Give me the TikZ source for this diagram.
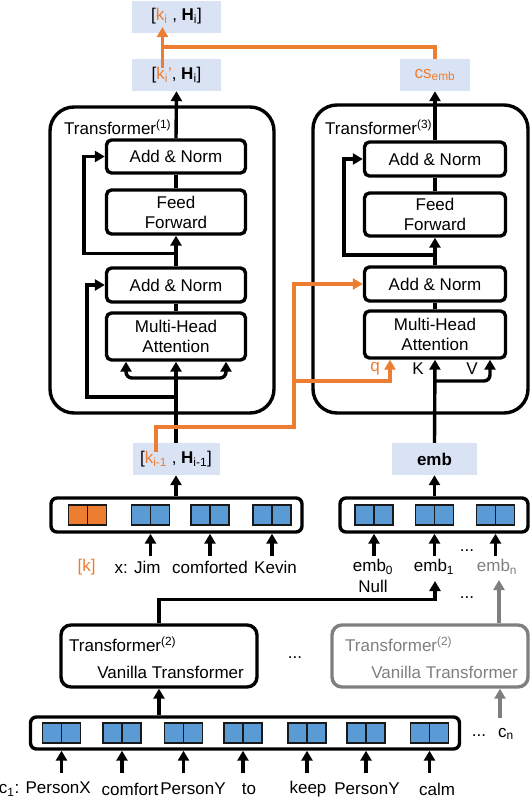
\documentclass[tikz,border=0pt]{standalone}
\usepackage{fontspec}
\setmainfont{Liberation Sans}
\usepackage{tikz}
\usepackage{xcolor}
\usetikzlibrary{arrows.meta,positioning}

\definecolor{kOrange}{HTML}{ED7D31}
\definecolor{tileBlue}{HTML}{5B9BD5}
\definecolor{boxBlue}{HTML}{DAE3F3}
\definecolor{fadeGray}{HTML}{7F7F7F}

\tikzset{
  block/.style={draw, line width=3.4pt, rounded corners=5pt, fill=white, align=center},
  tfbox/.style={draw, line width=3.4pt, rounded corners=24pt},
  embbar/.style={draw, line width=3.4pt, rounded corners=6pt, fill=white},
  hbox/.style={fill=boxBlue, minimum height=32pt},
  tile/.style={draw=black!90, line width=1.5pt, fill=tileBlue, minimum width=38pt, minimum height=20pt,
    path picture={\draw[line width=1.5pt, black!90] (path picture bounding box.north) -- (path picture bounding box.south);}},
  arr/.style={line width=3.4pt, -{Triangle[width=11pt,length=10pt]}},
  wire/.style={line width=3.4pt},
}

\begin{document}
\begin{tikzpicture}[x=1pt, y=-1pt, font=\fontsize{17}{20}\selectfont, every node/.style={inner sep=0pt}]
\useasboundingbox (0,0) rectangle (530,798);

% hidden states
\node[hbox, minimum width=89pt] (htop) at (176.5,16.5) {[\textcolor{kOrange}{k\textsubscript{i}} , \textbf{H}\textsubscript{i}]};
\node[hbox, minimum width=89pt] (hmid) at (176.5,75) {[\textcolor{kOrange}{k\textsubscript{i}'}, \textbf{H}\textsubscript{i}]};
\node[hbox, minimum width=70pt] (cs) at (435,75) {\textcolor{kOrange}{cs\textsubscript{emb}}};
\node[hbox, minimum width=87pt] (hprev) at (176,459) {[\textcolor{kOrange}{k\textsubscript{i-1}} , \textbf{H}\textsubscript{i-1}]};
\node[hbox, minimum width=85pt] (emb) at (434.5,459) {\textbf{emb}};

% Transformer (1)
\node[tfbox, minimum width=224pt, minimum height=306pt] (tf1) at (162,260) {};
\node[anchor=west] (tf1lbl) at (64,127) {Transformer\textsuperscript{(1)}};
\node[block, minimum width=139pt, minimum height=33pt] (lan1) at (176,156.5) {Add \& Norm};
\node[block, minimum width=139pt, minimum height=44pt] (lff) at (176,212) {Feed\\Forward};
\node[block, minimum width=139pt, minimum height=34pt] (lan2) at (176,285) {Add \& Norm};
\node[block, minimum width=139pt, minimum height=47pt] (lmha) at (176,336.5) {Multi-Head\\Attention};

% Transformer (3)
\node[tfbox, minimum width=215pt, minimum height=308pt] (tf3) at (420.5,259) {};
\node[anchor=west] (tf3lbl) at (325,127) {Transformer\textsuperscript{(3)}};
\node[block, minimum width=141pt, minimum height=34pt] (ran1) at (435,159) {Add \& Norm};
\node[block, minimum width=141pt, minimum height=43pt] (rff) at (435,214.5) {Feed\\Forward};
\node[block, minimum width=141pt, minimum height=34pt] (ran2) at (435,284) {Add \& Norm};
\node[block, minimum width=141pt, minimum height=47pt] (rmha) at (435,334.5) {Multi-Head\\Attention};
\node (qlbl) at (375,369) {\textcolor{kOrange}{q}};
\node (klbl) at (418,369) {K};
\node (vlbl) at (472,369) {V};

% connections inside Transformer (1)
\draw[wire] (lff.north) -- (lan1.south);
\draw[arr] (lan2.north) -- (lff.south);
\draw[wire] (lmha.north) -- (lan2.south);
\draw[arr] (hprev.north) -- (lmha.south);
\draw[arr] (lan1.north) -- (hmid.south);
\coordinate (lres1) at (176,253.5);
\coordinate (lres2) at (176,397);
\coordinate (lfork) at (176,378);
\draw[arr] (lres1) -- ++(-92,0) |- (lan1.west);
\draw[arr] (lres2) -- ++(-89,0) |- (lan2.west);
\draw[arr, rounded corners=6pt] (lfork) -| ([xshift=-50pt]lmha.south);
\draw[arr, rounded corners=6pt] (lfork) -| ([xshift=50pt]lmha.south);

% connections inside Transformer (3)
\draw[wire] (rff.north) -- (ran1.south);
\draw[arr] (ran2.north) -- (rff.south);
\draw[wire] (rmha.north) -- (ran2.south);
\draw[arr] (emb.north) -- (rmha.south);
\draw[arr] (ran1.north) -- (cs.south);
\coordinate (rres) at (435,255);
\coordinate (vfork) at (435,381);
\draw[arr] (rres) -- ++(-91,0) |- (ran1.west);
\draw[arr, rounded corners=6pt] (vfork) -| ([xshift=55pt]rmha.south);

% knowledge path (orange)
\coordinate (kmid) at (162.5,68);
\coordinate (kup) at (162.5,27);
\coordinate (kjoin) at (162.5,47);
\coordinate (kprevk) at (156,452);
\coordinate (qturn) at (294,427);
\coordinate (qfork) at (294,381);
\draw[arr, kOrange] (kmid) -- (kup);
\draw[wire, kOrange] (cs.north) |- (kjoin);
\draw[arr, kOrange] (kprevk) |- (qturn) |- (ran2.west);
\draw[arr, kOrange] (qfork) -| ([xshift=-45pt]rmha.south);

% input sequence x
\node[embbar, minimum width=251pt, minimum height=34pt] (lbar) at (176.5,515) {};
\node[tile, fill=kOrange] (tk) at (87.5,515) {};
\node[tile] (tx) at (150.5,515) {};
\node[tile] (tc) at (210,515) {};
\node[tile] (tv) at (272,515) {};
\draw[arr] (lbar.north -| hprev) -- (hprev.south);
\draw[arr] (tx |- 0,556) -- (tx |- lbar.south);
\draw[arr] (tc |- 0,556) -- (tc |- lbar.south);
\draw[arr] (tv |- 0,556) -- (tv |- lbar.south);
\node (lk) at (86.5,567) {\textcolor{kOrange}{[k]}};
\node (lx) at (137.5,567) {x: Jim};
\node (lcomf) at (210,567) {comforted};
\node (lkev) at (275.5,567) {Kevin};

% embeddings
\node[embbar, minimum width=188pt, minimum height=34pt] (rbar) at (434,515) {};
\node[tile] (e0) at (374,515) {};
\node[tile] (e1) at (434.5,515) {};
\node[tile] (en) at (495.5,515) {};
\draw[arr] (rbar.north -| emb) -- (emb.south);
\draw[arr] (e0 |- 0,556) -- (e0 |- rbar.south);
\draw[arr] (e1 |- 0,556) -- (e1 |- rbar.south);
\draw[arr] (en |- 0,556) -- (en |- rbar.south);
\node (emb0) at (373,567) {emb\textsubscript{0}};
\node (null) at (373,586) {Null};
\node (emb1) at (434,567) {emb\textsubscript{1}};
\node (embn) at (497,567) {\textcolor{fadeGray}{emb\textsubscript{n}}};
\node[anchor=base] (dotsa) at (467,551) {...};
\node[anchor=base] (dotsb) at (467,598) {...};

% Transformer (2)
\node[block, rounded corners=10pt, minimum width=196pt, minimum height=62pt] (tf2) at (159,656) {};
\node[anchor=west] (tf2a) at (69,644) {Transformer\textsuperscript{(2)}};
\node[anchor=east] (tf2b) at (244,672) {Vanilla Transformer};
\node[block, draw=fadeGray, rounded corners=10pt, minimum width=196pt, minimum height=62pt] (tf2g) at (430,656) {};
\node[anchor=west] (tf2ga) at (345,644) {\textcolor{fadeGray}{Transformer\textsuperscript{(2)}}};
\node[anchor=east] (tf2gb) at (518,672) {\textcolor{fadeGray}{Vanilla Transformer}};
\node[anchor=base] (dotsc) at (295,658) {...};
\coordinate (e1up) at (435,581);
\coordinate (enup) at (499,580);
\draw[arr] (tf2.north) -- ++(0,-24) -| (e1up);
\draw[arr, fadeGray] (tf2g.north -| enup) -- (enup);

% input sequence c
\node[embbar, minimum width=429pt, minimum height=32pt] (cbar) at (245,733) {};
\node[tile] (c1) at (61.5,733) {};
\node[tile] (c2) at (122,733) {};
\node[tile] (c3) at (183.5,733) {};
\node[tile] (c4) at (243,733) {};
\node[tile] (c5) at (307,733) {};
\node[tile] (c6) at (366,733) {};
\node[tile] (c7) at (429.5,733) {};
\draw[arr] (cbar.north -| tf2) -- (tf2.south);
\coordinate (cnup) at (500,718);
\draw[arr, fadeGray] (cnup) -- (cnup |- tf2g.south);
\node[anchor=base] (dotsd) at (479,736) {...};
\node (cn) at (506,734) {c\textsubscript{n}};
\draw[arr] (c1 |- 0,773) -- (c1 |- cbar.south);
\draw[arr] (c2 |- 0,773) -- (c2 |- cbar.south);
\draw[arr] (c3 |- 0,773) -- (c3 |- cbar.south);
\draw[arr] (c4 |- 0,773) -- (c4 |- cbar.south);
\draw[arr] (c5 |- 0,773) -- (c5 |- cbar.south);
\draw[arr] (c6 |- 0,773) -- (c6 |- cbar.south);
\draw[arr] (c7 |- 0,773) -- (c7 |- cbar.south);
\node[anchor=east] (lc1) at (91,789) {c\textsubscript{1}: PersonX};
\node (lc2) at (130,789) {comfort};
\node (lc3) at (193,789) {PersonY};
\node (lc4) at (249,789) {to};
\node (lc5) at (308,789) {keep};
\node (lc6) at (367,789) {PersonY};
\node (lc7) at (437,789) {calm};
\end{tikzpicture}
\end{document}
